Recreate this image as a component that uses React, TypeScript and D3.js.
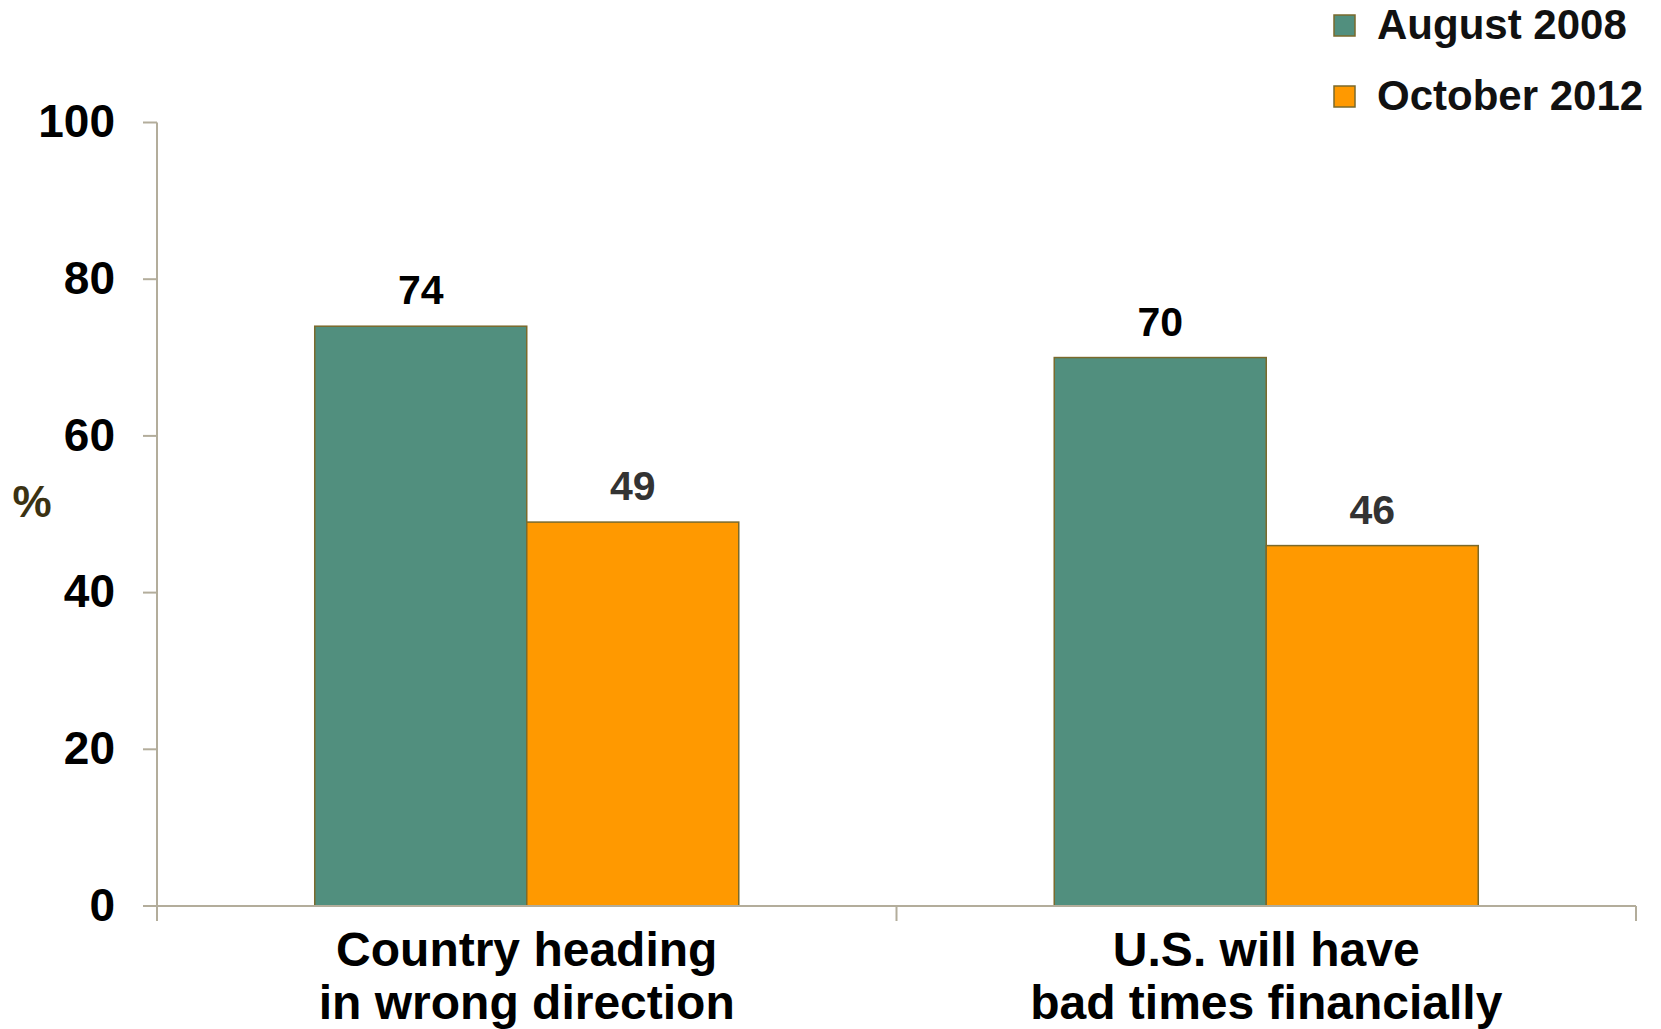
import React from "react";
import * as d3 from "d3";

const categories = ["Country heading|in wrong direction", "U.S. will have|bad times financially"];
const seriesNames = ["August 2008", "October 2012"];
const august2008 = [74, 70];
const october2012 = [49, 46];
const yTicks = [0, 20, 40, 60, 80, 100];

const colors = ["#518f7e", "#ff9900"];
const labelColors = ["#000000", "#333333"];
const FONT = "'Liberation Sans', Arial, Helvetica, sans-serif";

export default function App() {
  const W = 1661, H = 1029;
  const y = d3.scaleLinear().domain([0, 100]).range([906, 122.5]);
  const x = d3.scaleBand<string>().domain(categories).range([157, 1636]).paddingInner(0).paddingOuter(0);
  const xs = d3.scaleBand<string>().domain(seriesNames).range([0, x.bandwidth()]).paddingInner(0).paddingOuter(0.744);
  const values = [august2008, october2012];
  const axisColor = "#b3ad9b";
  const barStroke = "#7a6a2c";

  const boundaries = [...categories.map((c) => x(c) as number), (x(categories[categories.length - 1]) as number) + x.bandwidth()];

  return (
    <svg width={W} height={H} style={{ position: "absolute", left: 0, top: 0, background: "#fff" }} fontFamily={FONT} fontWeight="bold">
      {/* bars */}
      {categories.map((c, ci) => (
        <g key={c} transform={`translate(${x(c)},0)`}>
          {seriesNames.map((s, si) => {
            const v = values[si][ci];
            const bx = xs(s) as number;
            return (
              <g key={s}>
                <rect x={bx} y={y(v)} width={xs.bandwidth()} height={y(0) - y(v)} fill={colors[si]} stroke={barStroke} strokeWidth={1.5} />
                <text x={bx + xs.bandwidth() / 2} y={y(v) - 22} textAnchor="middle" fontSize={41} fill={labelColors[si]}>
                  {v}
                </text>
              </g>
            );
          })}
        </g>
      ))}
      {/* y axis */}
      <line x1={157} x2={157} y1={y(100)} y2={921} stroke={axisColor} strokeWidth={2} />
      {yTicks.map((t) => (
        <g key={t}>
          <line x1={143} x2={157} y1={y(t)} y2={y(t)} stroke={axisColor} strokeWidth={2} />
          <text x={115} y={y(t)} dy="0.32em" textAnchor="end" fontSize={46} fill="#000">
            {t}
          </text>
        </g>
      ))}
      {/* x axis */}
      <line x1={157} x2={1636} y1={y(0)} y2={y(0)} stroke={axisColor} strokeWidth={2} />
      {boundaries.map((b, i) => (
        <line key={i} x1={b} x2={b} y1={y(0)} y2={921} stroke={axisColor} strokeWidth={2} />
      ))}
      {categories.map((c) => {
        const lines = c.split("|");
        const cx = (x(c) as number) + x.bandwidth() / 2;
        return (
          <text key={c} x={cx} textAnchor="middle" fontSize={48} fill="#000">
            {lines.map((l, i) => (
              <tspan key={i} x={cx} y={966 + i * 53}>
                {l}
              </tspan>
            ))}
          </text>
        );
      })}
      {/* % label */}
      <text x={32} y={517} textAnchor="middle" fontSize={44} fill="#3b3212">%</text>
      {/* legend */}
      {seriesNames.map((s, i) => (
        <g key={s}>
          <rect x={1334} y={15 + i * 71} width={21} height={21} fill={colors[i]} stroke={barStroke} strokeWidth={1.5} />
          <text x={1377} y={39 + i * 71} fontSize={42} fill="#111">
            {s}
          </text>
        </g>
      ))}
    </svg>
  );
}
